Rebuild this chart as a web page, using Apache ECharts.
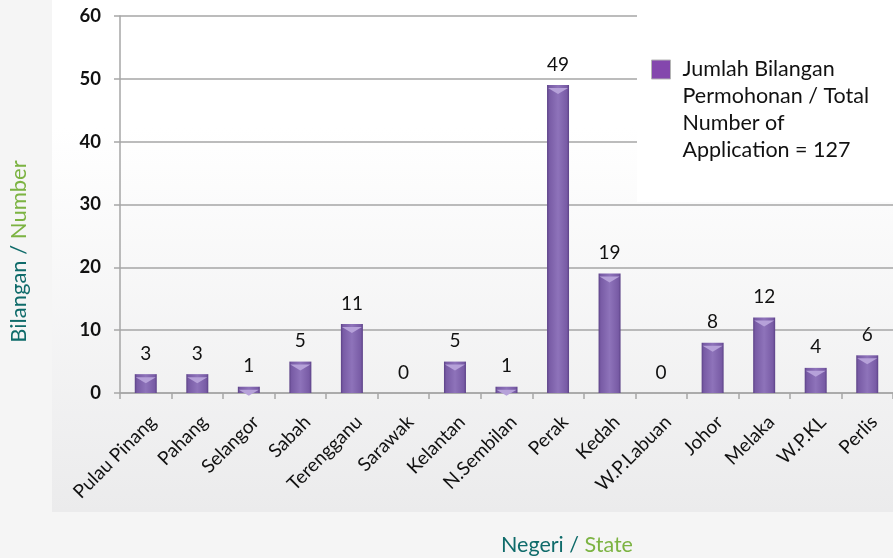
<!DOCTYPE html>
<html>
<head>
<meta charset="utf-8">
<script src="https://cdn.jsdelivr.net/npm/echarts@6/dist/echarts.min.js"></script>
<style>
html,body{margin:0;padding:0;background:#f5f5f5;}
#chart{width:893px;height:558px;}
</style>
</head>
<body>
<div id="chart"></div>
<script>
const categories = ['Pulau Pinang','Pahang','Selangor','Sabah','Terengganu','Sarawak','Kelantan','N.Sembilan','Perak','Kedah','W.P.Labuan','Johor','Melaka','W.P.KL','Perlis'];
const values = [3,3,1,5,11,0,5,1,49,19,0,8,12,4,6];
const seriesName = 'Jumlah Bilangan\nPermohonan / Total\nNumber of\nApplication = 127';
const yTicks = {min:0, max:60, interval:10};

const FONT = 'Lato, "Open Sans", sans-serif';
const chart = echarts.init(document.getElementById('chart'));

const barGrad = new echarts.graphic.LinearGradient(0,0,1,0,[
  {offset:0,color:'#5c4287'},
  {offset:0.1,color:'#785ba5'},
  {offset:0.5,color:'#8e73ba'},
  {offset:0.9,color:'#785ba5'},
  {offset:1,color:'#5c4287'}
]);

chart.setOption({
  backgroundColor:'#f5f5f5',
  animation:false,
  textStyle:{fontFamily:FONT},
  graphic:[
    {type:'rect', z:-10, silent:true, shape:{x:52,y:0,width:841,height:512},
     style:{fill:new echarts.graphic.LinearGradient(0,0,0,1,[
       {offset:0,color:'#ffffff'},{offset:0.25,color:'#ffffff'},{offset:1,color:'#ebebec'}])}},
    {type:'rect', z:1, silent:true, shape:{x:637,y:0,width:256,height:202},
     style:{fill:'#ffffff'}}
  ],
  title:{
    text:'{a|Negeri / }{b|State}',
    left:496, top:529,
    textStyle:{fontWeight:'normal',rich:{
      a:{color:'#0f6b6a',fontSize:21.5,fontWeight:'normal',fontFamily:FONT},
      b:{color:'#7cb342',fontSize:21.5,fontWeight:'normal',fontFamily:FONT}
    }}
  },
  legend:{
    left:651, top:-25, padding:0,
    itemWidth:19, itemHeight:19,
    icon:'rect',
    data:[{name:seriesName, itemStyle:{color:'#8447ad',borderColor:'#b5b5b5',borderWidth:1}}],
    formatter: n => '\n\n\n' + n,
    textStyle:{fontSize:21.5,lineHeight:27,color:'#111',fontFamily:FONT,padding:[0,0,0,7]},
    z:5
  },
  grid:{left:120, top:16, bottom:165, right:-7, containLabel:false},
  xAxis:{
    type:'category', data:categories,
    axisLine:{lineStyle:{color:'#a6a6a6',width:1.5}},
    axisTick:{show:true,length:6,lineStyle:{color:'#a6a6a6',width:1.5}},
    axisLabel:{rotate:45,interval:0,margin:33,padding:[0,-10,0,0],fontSize:19,color:'#111',fontFamily:FONT}
  },
  yAxis:{
    type:'value', min:yTicks.min, max:yTicks.max, interval:yTicks.interval,
    name:'{a|Bilangan / }{b|Number}',
    nameLocation:'middle', nameGap:90, nameRotate:90,
    nameTextStyle:{fontWeight:'normal',padding:[0,94,0,0],rich:{
      a:{color:'#0f6b6a',fontSize:22,fontWeight:'normal',fontFamily:FONT},
      b:{color:'#7cb342',fontSize:22,fontWeight:'normal',fontFamily:FONT}
    }},
    axisLine:{show:true,lineStyle:{color:'#a6a6a6',width:1.5}},
    axisTick:{show:true,length:6,lineStyle:{color:'#a6a6a6',width:1.5}},
    axisLabel:{margin:19,fontSize:18.5,fontWeight:'bold',color:'#111',fontFamily:FONT},
    splitLine:{show:true,lineStyle:{color:'#a6a6a6',width:1.5}}
  },
  series:[
    {
      name:seriesName, type:'bar', data:values, barWidth:22, barGap:'-100%',
      itemStyle:{color:barGrad},
      label:{show:true,position:'top',distance:11,fontSize:19,color:'#111',fontFamily:FONT},
      z:2
    },
    {
      name:'cap', type:'pictorialBar', barWidth:22, barGap:'-100%',
      data:values.map(v => v > 0 ? v : null),
      symbol:'path://M0,0 L20,0 L10,6 Z',
      symbolSize:[20,6], symbolPosition:'end', symbolOffset:[0,'50%'],
      itemStyle:{color:'#b6a1d9'},
      z:3, silent:true
    }
  ]
});
</script>
</body>
</html>
